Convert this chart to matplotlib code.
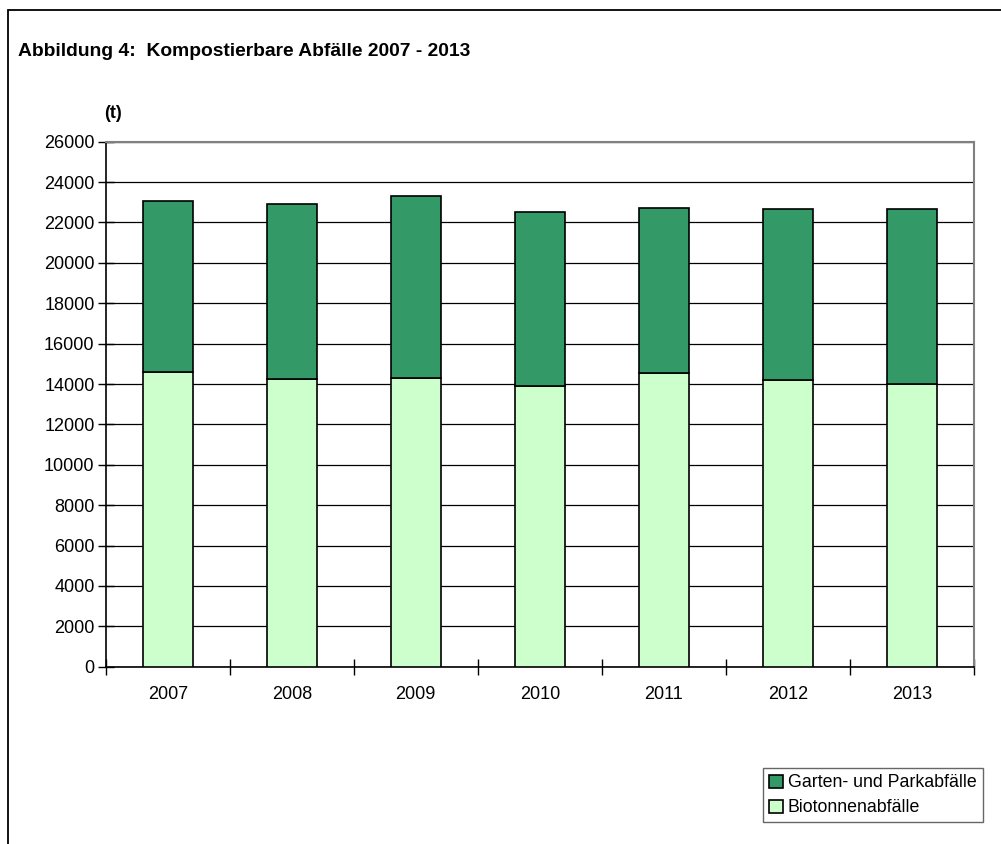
import numpy as np
import matplotlib.pyplot as plt
import matplotlib.patches as mpatches

plt.rcParams['font.family'] = ['Liberation Sans', 'DejaVu Sans']

years = ['2007', '2008', '2009', '2010', '2011', '2012', '2013']
bio = [14570, 14230, 14300, 13890, 14530, 14220, 14000]
garten = [8490, 8700, 9030, 8650, 8190, 8430, 8670]

dark = '#339966'
light = '#CCFFCC'

fig = plt.figure(figsize=(10.01, 8.44), dpi=100)
ax = fig.add_axes([105.7/1001, 177.3/844, 868.3/1001, 525/844])

x = np.arange(len(years))
ax.bar(x, bio, width=0.4, color=light, edgecolor='black', linewidth=1.2,
       label='Biotonnenabfälle', zorder=3)
ax.bar(x, garten, width=0.4, bottom=bio, color=dark, edgecolor='black',
       linewidth=1.2, label='Garten- und Parkabfälle', zorder=3)

ax.set_xlim(-0.5, len(years) - 0.5)
ax.set_ylim(0, 26000)
ax.set_yticks(np.arange(0, 26001, 2000))
ax.yaxis.grid(True, color='black', linewidth=0.9, zorder=0)
ax.set_axisbelow(True)

ax.set_xticks(x)
ax.set_xticklabels(years)
ax.set_xticks(np.arange(-0.5, len(years), 1), minor=True)
ax.tick_params(axis='x', which='major', length=0, pad=14, labelsize=13)
ax.tick_params(axis='x', which='minor', length=12, width=1, direction='inout')
ax.tick_params(axis='y', length=12, width=1, direction='inout', pad=2, labelsize=13)

for s in ['top', 'right']:
    ax.spines[s].set_color('#808080')
    ax.spines[s].set_linewidth(1.5)
for s in ['left', 'bottom']:
    ax.spines[s].set_color('black')
    ax.spines[s].set_linewidth(1.2)

fig.text(18/1001, 1 - 51/844, 'Abbildung 4:  Kompostierbare Abfälle 2007 - 2013',
         fontsize=13.9, fontweight='bold', va='center', ha='left')
fig.text(104/1001, 1 - 114/844, '(t)', fontsize=13, fontweight='bold',
         va='center', ha='left')

# outer frame of the chart (right and bottom edges lie outside the image)
frame = mpatches.Rectangle((8/1001, -0.05), 1.1, 1.05 - 10/844,
                           transform=fig.transFigure, fill=False,
                           edgecolor='black', linewidth=1.3)
fig.patches.append(frame)

handles, labels = ax.get_legend_handles_labels()
leg = fig.legend(handles[::-1], labels[::-1], loc='upper left',
                 bbox_to_anchor=(763/1001, 1 - 768/844), fontsize=12.8,
                 frameon=True, fancybox=False, edgecolor='#404040',
                 handlelength=0.75, handleheight=0.75, handletextpad=0.3,
                 borderpad=0.35, labelspacing=0.45, borderaxespad=0)
leg.get_frame().set_linewidth(1.0)

fig.savefig('out.png', dpi=100)
